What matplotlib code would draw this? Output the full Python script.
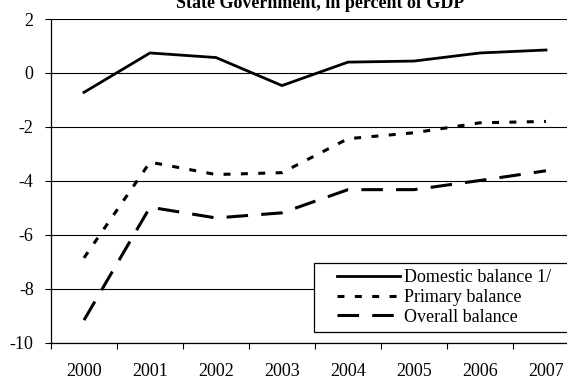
import numpy as np
import matplotlib
matplotlib.use("Agg")
import matplotlib.pyplot as plt
from matplotlib.legend_handler import HandlerLine2D

plt.rcParams['font.family'] = ['Liberation Serif', 'DejaVu Serif']
plt.rcParams['lines.scale_dashes'] = False

years = ['2000', '2001', '2002', '2003', '2004', '2005', '2006', '2007']
domestic = [-0.72, 0.74, 0.57, -0.47, 0.40, 0.44, 0.74, 0.85]
primary = [-6.86, -3.31, -3.77, -3.70, -2.44, -2.22, -1.85, -1.80]
overall = [-9.17, -4.98, -5.38, -5.19, -4.33, -4.33, -3.99, -3.63]

W, H = 567, 379
fig = plt.figure(figsize=(W / 100, H / 100), dpi=100)
ax = fig.add_axes([51 / W, (H - 342.5) / H, 528 / W, (342.5 - 19) / H])

x = np.arange(len(years))
ax.plot(x, domestic, color='black', lw=2.0, label='Domestic balance 1/')
ax.plot(x, primary, color='black', lw=2.2, dashes=(5, 7.5), label='Primary balance')
ax.plot(x, overall, color='black', lw=2.2, dashes=(15.5, 9.5), label='Overall balance')

ax.set_xlim(-0.5, 7.5)
ax.set_ylim(-10, 2)
ax.set_yticks(np.arange(-10, 3, 2))
ax.set_yticklabels([str(v) for v in range(-10, 3, 2)])
ax.yaxis.grid(True, color='black', lw=0.8)
ax.set_axisbelow(True)

# category ticks sit between years, labels centred on the years
ax.set_xticks(np.arange(-0.5, 8, 1))
ax.set_xticklabels([])
ax.set_xticks(x, minor=True)
ax.set_xticklabels(years, minor=True)
ax.tick_params(axis='x', which='major', length=4.5, width=0.8, direction='out')
ax.tick_params(axis='x', which='minor', length=0, pad=14.5, labelsize=13)
ax.tick_params(axis='y', length=4.5, width=0.8, pad=8, labelsize=13)

for s in ['top', 'right']:
    ax.spines[s].set_visible(False)
for s in ['left', 'bottom']:
    ax.spines[s].set_linewidth(0.9)

leg = ax.legend(loc='upper left', bbox_to_anchor=(314 / W, 1 - 263 / H, 260 / W, 0.0),
                bbox_transform=fig.transFigure, mode='expand', borderaxespad=0,
                fontsize=13, frameon=True, fancybox=False, handlelength=4.4,
                handletextpad=0.25, labelspacing=0.15, borderpad=0.35,
                handler_map={plt.Line2D: HandlerLine2D(xpad=0.9)})
leg.get_frame().set_edgecolor('black')
leg.get_frame().set_linewidth(0.9)
leg.get_frame().set_alpha(1)

fig.text(320 / W, 1 - 8 / H, 'State Government, in percent of GDP',
         ha='center', va='baseline', fontsize=13, fontweight='bold')

fig.savefig('out.png', dpi=100)
